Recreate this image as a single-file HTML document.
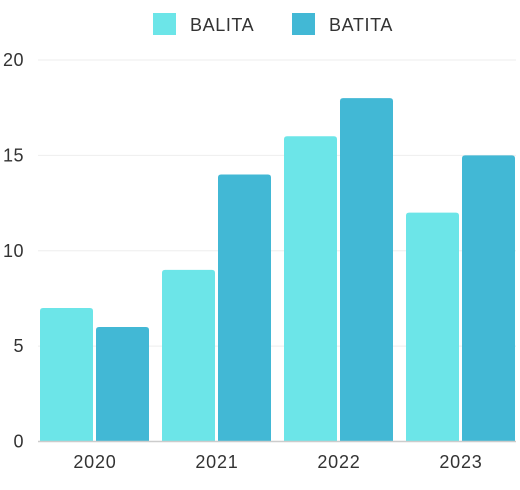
<!DOCTYPE html>
<html><head><meta charset="utf-8"><style>
body{margin:0;background:#fff;font-family:"Liberation Sans",sans-serif}
</style></head><body>
<svg id="c" width="520" height="485" xmlns="http://www.w3.org/2000/svg"></svg>
<script>
const categories=["2020","2021","2022","2023"];
const balita=[7,9,16,12];
const batita=[6,14,18,15];
const yTicks=[0,5,10,15,20];
const svg=document.getElementById('c');
const NS='http://www.w3.org/2000/svg';
function el(t,a,p){const e=document.createElementNS(NS,t);for(const k in a)e.setAttribute(k,a[k]);(p||svg).appendChild(e);return e;}
const y0=441.5,yTop=60,yMax=20;
const y=v=>y0-(y0-yTop)*v/yMax;
const bandL=34,bandW=122;
const x=i=>bandL+i*bandW;
yTicks.forEach(t=>{
  if(t>0){const g=el('line',{x1:38,x2:516,y1:y(t),y2:y(t),stroke:'#eeeeee','stroke-width':1});
  
  }
  const tx=el('text',{x:24,y:y(t)+6,'text-anchor':'end','font-size':18,fill:'#333','letter-spacing':0.5});
  tx.textContent=t;
  
  
});
function bar(xp,v,fill,name){
  const r=el('path',{d:`M${xp},${y0} V${y(v)+3} Q${xp},${y(v)} ${xp+3},${y(v)} H${xp+50} Q${xp+53},${y(v)} ${xp+53},${y(v)+3} V${y0} Z`,fill:fill});
  
  
}
categories.forEach((c,i)=>{
  bar(x(i)+6,balita[i],'#6ce5e8','bar-balita-'+c);
  bar(x(i)+62,batita[i],'#42b8d5','bar-batita-'+c);
  const t=el('text',{x:x(i)+61,y:468,'text-anchor':'middle','font-size':18,fill:'#333','letter-spacing':0.8});
  t.textContent=c;
  
  
});
const ax=el('line',{x1:38,x2:516,y1:y0,y2:y0,stroke:'#cccccc','stroke-width':1.5});


[['BALITA','#6ce5e8',153],['BATITA','#42b8d5',292]].forEach(([n,c,lx])=>{
  const g=el('g',{});
  
  
  el('rect',{x:lx,y:13,width:23,height:22,fill:c},g);
  const t=el('text',{x:lx+37,y:31,'font-size':18,fill:'#333','letter-spacing':0.6},g);
  t.textContent=n;
});
</script>
</body></html>
